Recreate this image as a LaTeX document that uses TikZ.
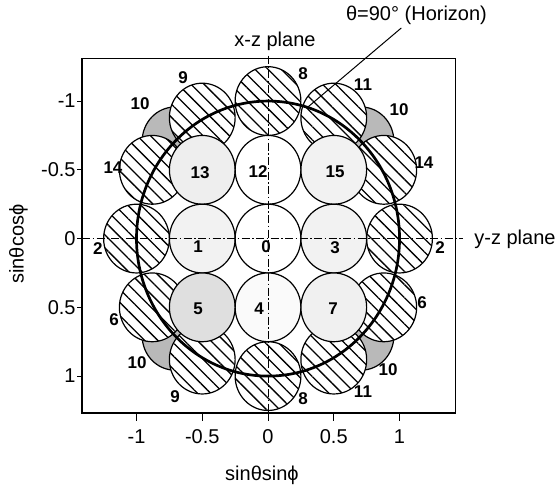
\documentclass[tikz,border=0pt]{standalone}
\usepackage{fontspec}
\setmainfont{Liberation Sans}
\usetikzlibrary{patterns.meta}

\begin{document}
\begin{tikzpicture}[x=131.5pt, y=-137.5pt, font=\fontsize{20}{24}\selectfont,
	schraffur/.style={draw, line width=1.2pt, preaction={fill=white},
		pattern={Lines[angle=-45, distance=9.3pt, line width=1.3pt]}},
	innen/.style={draw, line width=1.2pt},
	kappe/.style={draw, line width=1.2pt, fill=gray!55},
	horizont/.style={line width=2.7pt},
	ebene/.style={line width=0.9pt, dash pattern=on 8pt off 2.5pt on 1.5pt off 2.5pt},
	nummer/.style={font=\fontsize{17}{20}\selectfont\bfseries, inner sep=1pt}]
				\useasboundingbox (-2.038,-1.735) rectangle (2.205,1.793);
				% Kappen 10 (hinten)
				\foreach \u/\v in {-0.707/-0.707, 0.707/-0.707, -0.707/0.707, 0.707/0.707}
					\draw[kappe] (\u,\v) circle[radius=0.25];
				% Schraffierte Kreise aussen
				\foreach \u/\v in {0/-1, -0.5/-0.88, 0.5/-0.88, -0.88/-0.5, 0.88/-0.5, -1/0, 1/0, -0.88/0.5, 0.88/0.5, -0.5/0.88, 0.5/0.88, 0/1}
					\draw[schraffur] (\u,\v) circle[radius=0.25];
				% Kreise innen
				\foreach \u/\v/\g in {-0.5/-0.5/13, 0/-0.5/0, 0.5/-0.5/10, -0.5/0/10, 0/0/0, 0.5/0/10, -0.5/0.5/25, 0/0.5/4, 0.5/0.5/12}
					\draw[innen, fill=gray!\g] (\u,\v) circle[radius=0.25];
				% Horizont
				\draw[horizont] (0,0) circle[radius=1];
				% Ebenen
				\draw[ebene] (0,-1.33) -- (0,1.33);
				\draw[ebene] (-1.414,0) -- (1.48,0);
				% Rahmen
				\draw[line width=1.2pt] (-1.414,-1.31) rectangle (1.427,1.269);
				% Achsen beschriften
				\foreach \t [count=\i] in {-1,-0.5,0,0.5,1} {
					\draw[line width=1pt] (\t,1.269) -- ++(0,-8pt) node[below=5pt] (xt\i) {\t};
					\draw[line width=1pt] (-1.414,\t) -- ++(-5pt,0) node[left, inner sep=1pt] (yt\i) {\t};
				}
				\node (xtitel) at (-0.046,1.72) {sinθsinϕ};
				\node[rotate=90] (ytitel) at (-1.897,0.04) {sinθcosϕ};
				\node (xz) at (0.053,-1.433) {x-z plane};
				\node (yz) at (1.878,0.005) {y-z plane};
				% Beschriftung Horizont
				\node (hlabel) at (1.129,-1.625) {θ=90° (Horizon)};
				\coordinate (hpunkt) at (0.30,-0.954);
				\draw[line width=1pt] (hlabel) -- (hpunkt);
				% Nummern innen
				\foreach \u/\v/\n [count=\i] in {-0.517/-0.476/13, -0.076/-0.484/12, 0.51/-0.484/15, -0.532/0.062/1, -0.015/0.062/0, 0.51/0.069/3, -0.532/0.513/5, -0.068/0.513/4, 0.494/0.513/7}
					\node[nummer] (in\i) at (\u,\v) {\n};
				% Nummern aussen
				\foreach \u/\v/\n [count=\i] in {0.266/-1.196/8, -0.646/-1.167/9, -0.973/-0.978/10, 0.722/-1.116/11, 0.996/-0.935/10, -1.179/-0.513/14, 1.186/-0.549/14, -1.293/0.069/2, 1.308/0.062/2, -1.171/0.593/6, 1.171/0.469/6, -0.996/0.905/10, -0.707/1.153/9, 0.266/1.167/8, 0.722/1.116/11, 0.913/0.956/10}
					\node[nummer] (aus\i) at (\u,\v) {\n};
\end{tikzpicture}
\end{document}
